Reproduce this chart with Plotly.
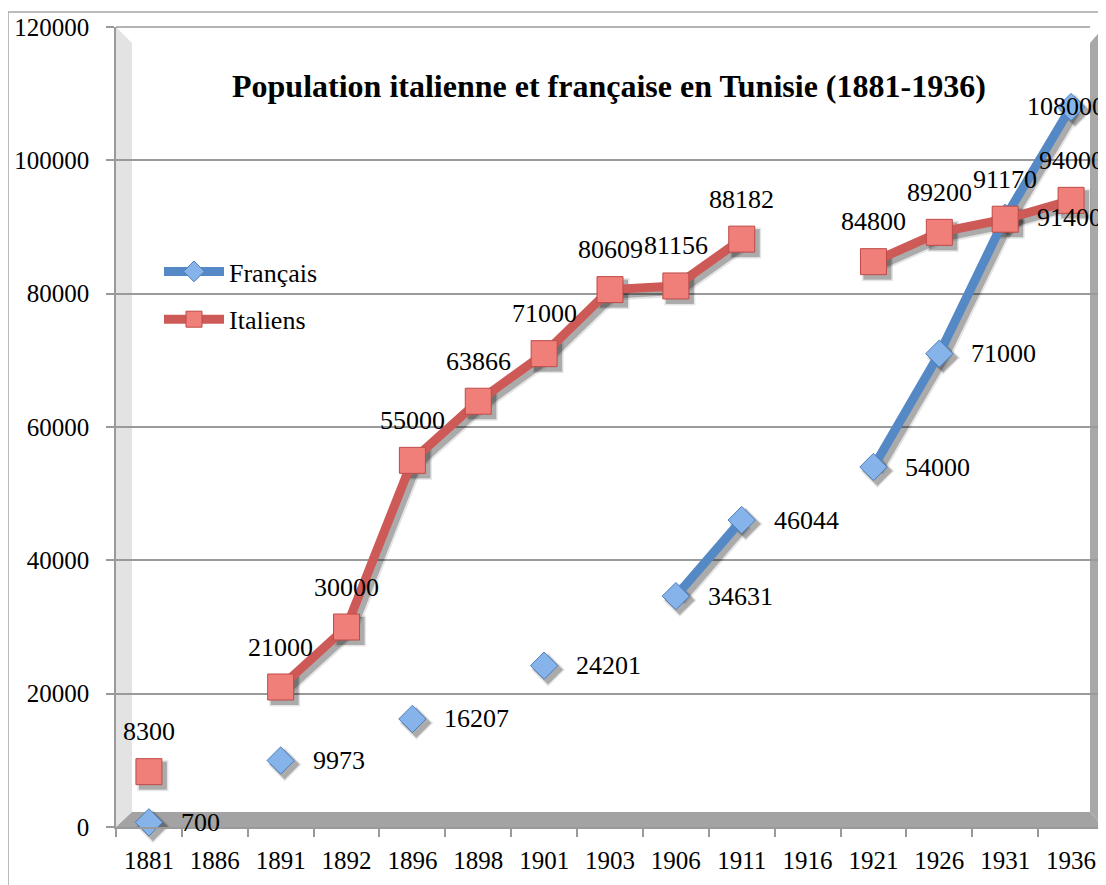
import plotly.graph_objects as go

years = ["1881", "1886", "1891", "1892", "1896", "1898", "1901", "1903",
         "1906", "1911", "1916", "1921", "1926", "1931", "1936"]
francais = [700, None, 9973, None, 16207, None, 24201, None,
            34631, 46044, None, 54000, 71000, 91400, 108000]
italiens = [8300, None, 21000, 30000, 55000, 63866, 71000, 80609,
            81156, 88182, None, 84800, 89200, 91170, 94000]
y_ticks = [0, 20000, 40000, 60000, 80000, 100000, 120000]

# page has an 8px body margin: figure coords = page coords - 8
OFF = 8
W, H = 1106 - OFF, 885 - OFF
PL, PR, PT, PB = 116, 1104, 27, 827          # plot area in page coords
ML, MR, MT, MB = PL - OFF, W - (PR - OFF), PT - OFF, H - (PB - OFF)
PW = PR - PL
PH = PB - PT
FONT = "Liberation Serif"

BLUE_LINE = "#5589c6"
BLUE_FILL = "#86b4ea"
BLUE_EDGE = "#4a7ebb"
RED_LINE = "#cd5a56"
RED_FILL = "#f07f7a"
RED_EDGE = "#be4b48"


def px_x(p):
    return (p - PL) / PW


def px_y(p):
    return (PB - p) / PH


fig = go.Figure()

# helper trace registering categories on the visible base axes
fig.add_trace(go.Scatter(x=years, y=[None] * len(years), mode="lines",
                         showlegend=False, hoverinfo="skip"))

# shadow traces (on shifted overlay axes)
for vals, sym, size in [(francais, "diamond", 21), (italiens, "square", 26)]:
    for w, op, grow in [(14, 0.10, 5), (10, 0.25, 2)]:
        fig.add_trace(go.Scatter(
            x=years, y=vals, mode="lines+markers", xaxis="x2", yaxis="y2",
            line=dict(color=f"rgba(0,0,0,{op})", width=w),
            marker=dict(symbol=sym, size=size + grow, color=f"rgba(0,0,0,{op})",
                        line=dict(width=0)),
            showlegend=False, hoverinfo="skip", cliponaxis=False))

# main traces
fig.add_trace(go.Scatter(
    x=years, y=francais, name="Français", mode="lines+markers",
    xaxis="x3", yaxis="y3", cliponaxis=False, legendgroup="fr",
    line=dict(color=BLUE_LINE, width=9),
    marker=dict(symbol="diamond", size=21, color=BLUE_FILL,
                line=dict(color=BLUE_EDGE, width=1))))
fig.add_trace(go.Scatter(
    x=years, y=italiens, name="Italiens", mode="lines+markers",
    xaxis="x3", yaxis="y3", cliponaxis=False, legendgroup="it",
    line=dict(color=RED_LINE, width=9),
    marker=dict(symbol="square", size=26, color=RED_FILL,
                line=dict(color=RED_EDGE, width=1))))

# data labels
ann = []
for i, v in enumerate(francais):
    if v is None:
        continue
    if i == len(years) - 1:
        ann.append(dict(x=i, y=v, text=str(v), showarrow=False, xanchor="center",
                        yanchor="middle", xshift=-5, yshift=1))
    else:
        ann.append(dict(x=i, y=v, text=str(v), showarrow=False, xanchor="left",
                        yanchor="middle", xshift=30, yshift=0))
for i, v in enumerate(italiens):
    if v is None:
        continue
    ann.append(dict(x=i, y=v, text=str(v), showarrow=False, xanchor="center",
                    yanchor="middle", yshift=40))
for a in ann:
    a.update(xref="x", yref="y", font=dict(family=FONT, size=26, color="black"))

ann.append(dict(xref="paper", yref="paper", x=px_x(609), y=px_y(86),
                text="<b>Population italienne et française en Tunisie (1881-1936)</b>",
                showarrow=False, xanchor="center", yanchor="middle",
                font=dict(family=FONT, size=32, color="black")))

# 3D walls
x_l0, x_l1 = px_x(116), px_x(132)
x_r0, x_r1 = px_x(1090), px_x(1104)
y_t0, y_t1 = px_y(27), px_y(43)
y_b0, y_b1 = px_y(827), px_y(812)
shapes = [
    # outer chart border
    dict(type="rect", xref="paper", yref="paper", x0=px_x(8), y0=px_y(900),
         x1=px_x(1130), y1=px_y(12), line=dict(color="#a6a6a6", width=1.5),
         fillcolor="rgba(0,0,0,0)", layer="below"),
    # left side wall
    dict(type="path", xref="paper", yref="paper", layer="below",
         path=f"M{x_l0},{y_t0} L{x_l1},{y_t1} L{x_l1},{y_b1} L{x_l0},{y_b0} Z",
         fillcolor="#e3e3e3", line=dict(width=0)),
    # floor
    dict(type="path", xref="paper", yref="paper", layer="below",
         path=f"M{x_l0},{y_b0} L{x_l1},{y_b1} L{x_r0},{y_b1} L{x_r1},{y_b0} Z",
         fillcolor="#a3a3a3", line=dict(width=0)),
    # right side wall
    dict(type="path", xref="paper", yref="paper", layer="below",
         path=f"M{x_r0},{y_t1} L{x_r1},{y_t0} L{x_r1},{y_b0} L{x_r0},{y_b1} Z",
         fillcolor="#a8a8a8", line=dict(width=0)),
    # top border of plot frame
    dict(type="line", xref="paper", yref="paper", layer="below",
         x0=px_x(116), x1=px_x(1090), y0=y_t0, y1=y_t0,
         line=dict(color="#9a9a9a", width=1.5)),
]

d_x = 4 / (PW / len(years))
d_y = 4 * 120000 / PH
xr = [-0.5, len(years) - 0.5]

fig.update_layout(
    width=W, height=H,
    margin=dict(l=ML, r=MR, t=MT, b=MB, pad=0),
    paper_bgcolor="white", plot_bgcolor="rgba(0,0,0,0)",
    font=dict(family=FONT, size=25, color="black"),
    showlegend=True,
    legend=dict(x=px_x(159), y=px_y(248), xanchor="left", yanchor="top",
                bgcolor="rgba(0,0,0,0)", font=dict(family=FONT, size=26),
                itemwidth=60, traceorder="grouped", tracegroupgap=11),
    xaxis=dict(type="category", categoryorder="array", categoryarray=years,
               range=xr, tickson="boundaries", ticks="outside", ticklen=8,
               tickcolor="#9a9a9a", tickwidth=1.5, showgrid=False,
               showline=True, linecolor="#9a9a9a", linewidth=1.5,
               tickfont=dict(family=FONT, size=25), zeroline=False,
               ticklabelstandoff=10, fixedrange=True),
    yaxis=dict(range=[0, 120000], tickvals=y_ticks,
               ticktext=[str(t) for t in y_ticks], ticks="outside", ticklen=8,
               tickcolor="#9a9a9a", tickwidth=1.5, showgrid=True,
               gridcolor="#9a9a9a", gridwidth=1.5, showline=True,
               linecolor="#9a9a9a", linewidth=1.5, zeroline=False,
               tickfont=dict(family=FONT, size=25), ticklabelstandoff=12,
               fixedrange=True),
    xaxis2=dict(type="category", categoryorder="array", categoryarray=years,
                overlaying="x", visible=False, range=[xr[0] - d_x, xr[1] - d_x]),
    yaxis2=dict(overlaying="y", visible=False, range=[d_y, 120000 + d_y]),
    xaxis3=dict(type="category", categoryorder="array", categoryarray=years,
                overlaying="x", visible=False, range=xr),
    yaxis3=dict(overlaying="y", visible=False, range=[0, 120000]),
    annotations=ann,
    shapes=shapes,
)

fig.write_html("out.html")
